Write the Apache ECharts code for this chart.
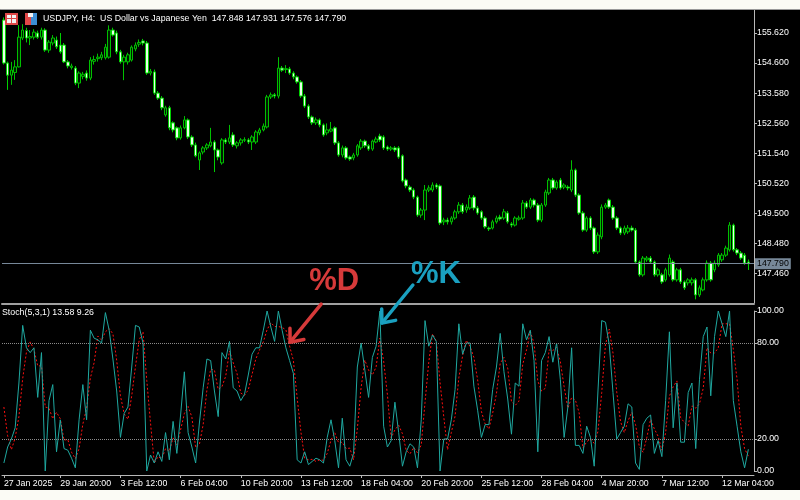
<!DOCTYPE html>
<html><head><meta charset="utf-8">
<script src="https://cdn.jsdelivr.net/npm/echarts@6/dist/echarts.min.js"></script>
<style>
html,body{margin:0;padding:0;background:#fbfbf5;width:800px;height:500px;overflow:hidden;}
#frame{position:absolute;left:0;top:9px;width:800px;height:481px;background:#000;border-top:1px solid #9a9a9a;border-left:1px solid #8a8a8a;box-sizing:border-box;}
#chart{position:absolute;left:0;top:10px;width:800px;height:480px;}
</style></head><body>
<div id="frame"></div><div id="chart"></div>
<script>
const titleText = 'USDJPY, H4:  US Dollar vs Japanese Yen  147.848 147.931 147.576 147.790';
const stochTitle = 'Stoch(5,3,1) 13.58 9.26';
const priceTicks = [147.46,148.48,149.50,150.52,151.54,152.56,153.58,154.60,155.62];
const stochTicks = [0,20,80,100];
const stochLevels = [20,80];
const bidPrice = 147.790;
const xTickIndex = [0,15,31,47,63,79,95,111,127,143,159,175,191];
const xTickLabel = ['27 Jan 2025','29 Jan 20:00','3 Feb 12:00','6 Feb 04:00','10 Feb 20:00','13 Feb 12:00','18 Feb 04:00','20 Feb 20:00','25 Feb 12:00','28 Feb 04:00','4 Mar 20:00','7 Mar 12:00','12 Mar 04:00'];

const openP = [156.06,154.60,154.19,154.28,154.47,155.45,155.70,155.45,155.48,155.62,
155.48,155.72,155.04,155.28,155.38,155.21,155.21,154.64,154.45,154.43,
153.92,154.15,154.26,154.09,154.66,154.75,154.78,154.78,154.80,155.72,
155.62,154.98,154.64,154.64,154.70,155.08,155.24,155.35,155.28,154.26,
154.30,153.58,153.41,152.84,153.08,152.57,152.40,152.06,152.40,152.67,
152.09,151.82,151.31,151.58,151.72,151.79,151.92,151.65,151.21,151.99,
151.92,152.16,151.79,151.89,151.98,151.99,151.92,151.92,152.23,152.33,
152.43,153.45,153.52,153.48,154.43,154.38,154.40,154.26,154.13,153.96,
153.48,153.14,152.77,152.57,152.67,152.50,152.23,152.29,152.40,151.89,
151.48,151.72,151.41,151.38,151.48,151.72,151.95,151.79,151.68,151.92,
152.12,152.09,151.75,151.68,151.72,151.72,151.45,150.63,150.39,150.29,
150.05,149.44,149.61,150.29,150.29,150.46,150.43,149.21,149.27,149.21,
149.34,149.55,149.78,149.61,149.68,150.05,149.68,149.55,149.34,149.00,
149.00,149.21,149.37,149.34,149.51,149.14,149.10,149.30,149.34,149.85,
149.71,149.95,149.78,149.27,149.78,150.19,150.63,150.36,150.63,150.39,
150.39,150.29,150.97,150.12,149.51,148.93,149.34,149.00,148.19,148.70,
149.71,149.95,149.71,149.34,149.00,148.83,148.87,149.00,148.93,147.85,
147.41,147.92,147.98,147.85,147.41,147.41,147.24,147.41,147.85,147.24,
147.58,147.17,147.14,147.14,147.24,146.73,146.90,147.24,147.81,147.58,
147.75,147.92,148.08,148.26,149.10,148.26,148.15,148.08,147.848];
const highP = [156.15,154.65,154.64,154.70,155.89,155.92,155.80,155.72,155.75,155.70,
155.80,155.78,155.38,155.55,155.50,155.62,155.28,154.70,154.58,154.50,
154.32,154.30,154.35,154.80,154.85,154.92,154.98,155.25,155.88,155.80,
155.70,155.05,154.88,154.95,155.20,155.30,155.40,155.42,155.35,154.40,
154.38,153.65,153.48,153.15,153.15,152.62,152.45,152.48,152.80,152.72,
152.15,151.90,151.60,151.78,151.88,152.40,151.98,151.70,152.05,152.05,
152.50,152.25,151.95,152.05,152.08,152.05,152.15,152.32,152.40,152.55,
153.52,153.60,153.58,154.80,154.50,154.53,154.47,154.32,154.18,154.02,
153.55,153.20,152.82,152.75,152.72,152.55,152.55,152.60,152.45,151.95,
151.80,151.78,151.46,151.55,151.85,152.02,152.00,151.85,152.00,152.10,
152.20,152.15,151.80,151.78,151.78,151.78,151.50,150.68,150.45,150.35,
150.10,149.68,150.46,150.45,150.55,150.52,150.48,149.35,149.35,149.40,
149.62,149.88,149.85,149.80,150.12,150.12,149.75,149.60,149.40,149.05,
149.28,149.42,149.45,149.65,149.58,149.20,149.40,149.42,149.95,149.92,
150.02,150.00,149.85,149.85,150.30,150.70,150.70,150.62,150.70,150.52,
150.45,151.30,151.02,150.18,149.58,149.40,149.40,149.05,148.85,149.80,
149.85,150.00,149.78,149.40,149.05,149.08,149.10,149.08,149.00,147.90,
148.05,148.05,148.05,147.90,147.65,147.48,147.65,148.10,147.92,147.65,
147.65,147.22,147.30,147.32,147.30,147.05,147.32,147.90,147.88,147.90,
148.15,148.15,148.40,149.20,149.15,148.32,148.22,148.15,147.931];
const lowP = [154.55,153.69,153.86,154.03,154.45,155.38,155.30,155.21,155.40,155.42,
155.40,154.98,154.95,155.20,155.08,154.92,154.60,154.42,154.38,153.85,
153.75,154.05,154.00,154.02,154.55,154.65,154.70,154.72,154.75,155.50,
154.90,154.58,154.02,154.55,154.65,155.00,155.15,155.20,154.20,154.18,
153.52,153.35,153.00,152.78,152.32,152.25,151.98,152.00,152.35,152.02,
151.75,151.40,150.97,151.50,151.65,151.74,150.90,151.30,151.15,151.85,
151.85,151.75,151.70,151.80,151.92,151.85,151.65,151.85,152.15,152.28,
152.38,153.38,153.40,153.40,154.30,154.26,154.20,154.05,153.90,153.42,
153.08,152.70,152.50,152.50,152.42,152.10,152.15,152.25,151.82,151.42,
151.40,151.32,151.28,151.30,151.42,151.65,151.72,151.62,151.62,151.88,
151.92,151.65,151.62,151.62,151.58,151.35,150.55,150.35,150.22,149.98,
149.38,149.35,149.27,150.22,150.22,150.32,149.10,149.10,149.12,149.12,
149.28,149.48,149.48,149.52,149.62,149.60,149.45,149.28,148.98,148.90,
148.95,149.15,149.25,149.28,149.15,149.02,149.05,149.25,149.28,149.65,
149.65,149.70,149.20,149.20,149.72,150.12,150.30,150.30,150.30,150.32,
150.28,150.22,150.05,149.45,148.87,148.87,148.93,148.12,148.12,148.62,
149.65,149.65,149.28,148.93,148.76,148.76,148.80,148.88,147.78,147.35,
147.35,147.85,147.78,147.35,147.35,147.10,147.18,147.35,147.18,147.18,
147.10,146.90,147.05,147.05,146.58,146.66,146.85,147.18,147.18,147.50,
147.68,147.85,148.02,148.20,148.20,148.08,147.92,147.75,147.576];
const closeP = [154.60,154.19,154.36,154.47,155.48,155.72,155.45,155.50,155.65,155.48,
155.72,155.04,155.31,155.45,155.15,154.98,154.64,154.50,154.50,153.92,
154.26,154.22,154.09,154.70,154.72,154.80,154.88,155.14,155.72,155.55,
154.98,154.64,154.80,154.88,155.14,155.21,155.30,155.28,154.26,154.32,
153.58,153.41,153.08,153.08,152.40,152.33,152.06,152.40,152.67,152.09,
151.82,151.45,151.55,151.72,151.82,151.92,151.65,151.41,151.99,151.92,
152.06,151.82,151.89,151.99,152.00,151.92,152.09,152.26,152.33,152.46,
153.45,153.52,153.48,154.43,154.36,154.41,154.26,154.13,153.96,153.48,
153.14,152.77,152.57,152.67,152.50,152.16,152.33,152.36,151.89,151.48,
151.72,151.38,151.34,151.48,151.79,151.95,151.79,151.68,151.95,152.02,
151.99,151.72,151.68,151.72,151.65,151.41,150.60,150.43,150.29,150.05,
149.44,149.61,150.29,150.36,150.46,150.39,149.17,149.27,149.21,149.34,
149.55,149.78,149.55,149.71,150.02,149.68,149.51,149.34,149.04,148.97,
149.21,149.34,149.31,149.55,149.21,149.10,149.34,149.34,149.85,149.71,
149.95,149.78,149.27,149.78,150.22,150.63,150.36,150.56,150.36,150.46,
150.36,150.97,150.12,149.51,148.93,149.34,149.00,148.19,148.76,149.71,
149.78,149.71,149.34,149.00,148.83,149.00,149.00,148.93,147.85,147.41,
147.98,147.98,147.85,147.41,147.58,147.17,147.58,147.98,147.24,147.58,
147.17,146.97,147.24,147.24,146.73,146.97,147.24,147.81,147.24,147.81,
148.08,148.08,148.32,149.10,148.26,148.15,147.98,147.81,147.790];
const stochK = [5,15,20,27,55,91,77,74,77,46,
74,0,44,54,12,32,14,13,8,2,
32,54,32,88,83,82,80,99,88,70,
50,21,36,40,65,91,90,80,0,10,
5,12,6,24,7,31,11,35,62,24,
15,5,30,52,70,69,50,34,74,70,
81,52,50,44,48,60,73,77,77,88,
100,90,81,100,88,77,69,61,7,5,
12,4,6,8,7,5,21,32,19,2,
33,7,3,11,65,80,63,46,71,78,
100,28,15,19,43,24,3,12,17,15,
2,32,94,78,85,81,0,20,20,32,
51,92,73,80,80,53,38,21,29,29,
51,65,86,62,45,23,55,53,92,82,
88,69,12,69,74,84,68,80,57,21,
40,77,16,16,11,28,21,3,50,94,
93,79,49,20,24,28,42,40,5,1,
29,33,35,11,19,9,44,87,27,55,
18,18,49,55,14,57,84,90,47,84,
100,92,84,100,44,28,12,2,13.58];
const stochD = [40,22,13.3,20.7,34,57.7,74.3,80.7,76,65.7,
65.7,40,39.3,32.7,36.7,32.7,19.3,19.7,11.7,7.7,
14,29.3,39.3,58,67.7,84.3,81.7,87,89,85.7,
69.3,47,35.7,32.3,47,65.3,82,87,56.7,30,
5,9,7.7,14,12.3,20.7,16.3,25.7,36,40.3,
33.7,14.7,16.7,29,50.7,63.7,63,51,52.7,59.3,
75,67.7,61,48.7,47.3,50.7,60.3,70,75.7,80.7,
88.3,92.7,90.3,90.3,89.7,88.3,78,69,45.7,24.3,
8,7,7.3,6,7,6.7,11,19.3,24,17.7,
18,14,14.3,7,26.3,52,69.3,63,60,65,
83,68.7,47.7,20.7,25.7,28.7,23.3,13,10.7,14.7,
11.3,16.3,42.7,68,85.7,81.3,55.3,33.7,13.3,24,
34.3,58.3,72,81.7,77.7,71,57,37.3,29.3,26.3,
36.3,48.3,67.3,71,64.3,43.3,41,43.7,66.7,75.7,
87.3,79.7,56.3,50,51.7,75.7,75.3,77.3,68.3,52.7,
39.3,46,44.3,36.3,14.3,18.3,20,17.3,24.7,49,
79,88.7,73.7,49.3,31,24,31.3,36.7,29,15.3,
11.7,21,32.3,26.3,21.7,13,24,46.7,52.7,56.3,
33.3,30.3,28.3,40.7,39.3,42,51.7,77,73.7,73.7,
77,92,92,92,76,57.3,28,14,9.26];

const FONT = 'Liberation Sans';
const FS = 8.8;
const categories = Array.from({length: openP.length + 1}, (_, i) => String(i));
const candles = openP.map((o, i) => [o, closeP[i], lowP[i], highP[i]]);
const axisGrey = '#b8b8b8';

const chart = echarts.init(document.getElementById('chart'), null, {renderer: 'canvas'});
const option = {
  backgroundColor: '#000000',
  animation: false,
  title: [
    {text: titleText, left: 43, top: 4, padding: 0,
     textStyle: {color: '#ffffff', fontSize: FS, fontWeight: 'normal', fontFamily: FONT}},
    {text: stochTitle, left: 2, top: 298, padding: 0,
     textStyle: {color: '#ffffff', fontSize: FS, fontWeight: 'normal', fontFamily: FONT}}
  ],
  grid: [
    {left: 2, right: 46, top: 0, height: 293},
    {left: 2, right: 46, top: 301, height: 160}
  ],
  xAxis: [
    {type: 'category', data: categories, gridIndex: 0, boundaryGap: true, offset: 1,
     axisLine: {show: true, onZero: false, lineStyle: {color: '#a0a0a0', width: 2}},
     axisTick: {show: false}, axisLabel: {show: false}, splitLine: {show: false}},
    {type: 'category', data: categories, gridIndex: 1, boundaryGap: true, offset: 4,
     axisLine: {show: true, onZero: false, lineStyle: {color: axisGrey, width: 1}},
     axisTick: {show: true, alignWithLabel: true, length: 3,
       interval: (i) => xTickIndex.includes(i), lineStyle: {color: axisGrey}},
     axisLabel: {interval: (i) => xTickIndex.includes(i),
       formatter: (v, i) => xTickLabel[xTickIndex.indexOf(i)],
       align: 'left', color: '#ffffff', fontSize: FS, fontFamily: FONT, margin: 4},
     splitLine: {show: false}}
  ],
  yAxis: [
    {type: 'value', gridIndex: 0, position: 'right', min: 146.455, max: 156.401,
     axisLine: {show: true, lineStyle: {color: axisGrey}},
     axisTick: {show: true, length: 3, customValues: priceTicks, lineStyle: {color: axisGrey}},
     axisLabel: {customValues: priceTicks, formatter: (v) => v.toFixed(3),
       color: '#ffffff', fontSize: FS, fontFamily: FONT, margin: 3},
     splitLine: {show: false}},
    {type: 'value', gridIndex: 1, position: 'right', min: 0, max: 100,
     axisLine: {show: true, lineStyle: {color: axisGrey}},
     axisTick: {show: true, length: 3, customValues: stochTicks, lineStyle: {color: axisGrey}},
     axisLabel: {customValues: stochTicks, formatter: (v) => v.toFixed(2),
       color: '#ffffff', fontSize: FS, fontFamily: FONT, margin: 3},
     splitLine: {show: false}}
  ],
  series: [
    {type: 'candlestick', xAxisIndex: 0, yAxisIndex: 0, data: candles, barWidth: 3,
     itemStyle: {color: '#001a00', color0: '#e8ffe8', borderColor: '#00c000', borderColor0: '#00d000', borderWidth: 1},
     markLine: {silent: true, symbol: ['none', 'none'],
       lineStyle: {color: '#778899', width: 1, type: 'solid'},
       label: {show: true, position: 'end', distance: 1, formatter: bidPrice.toFixed(3),
         backgroundColor: '#778899', color: '#000000', padding: [1, 2, 1, 2],
         fontSize: FS, fontFamily: FONT},
       data: [{yAxis: bidPrice}]}},
    {type: 'line', name: '%D', xAxisIndex: 1, yAxisIndex: 1, data: stochD, symbol: 'none', z: 2,
     lineStyle: {color: '#ff1010', width: 1, type: [2, 2]}},
    {type: 'line', name: '%K', xAxisIndex: 1, yAxisIndex: 1, data: stochK, symbol: 'none', z: 3,
     lineStyle: {color: '#1fa8a0', width: 1},
     markLine: {silent: true, symbol: ['none', 'none'],
       lineStyle: {color: '#8a8a8a', width: 1, type: 'dotted'},
       label: {show: false}, data: stochLevels.map(v => ({yAxis: v}))}}
  ]
};
chart.setOption(option);

function arrow(tip, tail, color) {
  const dx = tail[0] - tip[0], dy = tail[1] - tip[1];
  const len = Math.hypot(dx, dy), ux = dx / len, uy = dy / len;
  const arm = 14, a = 40 * Math.PI / 180;
  const r1 = [tip[0] + arm * (ux * Math.cos(a) - uy * Math.sin(a)), tip[1] + arm * (ux * Math.sin(a) + uy * Math.cos(a))];
  const r2 = [tip[0] + arm * (ux * Math.cos(-a) - uy * Math.sin(-a)), tip[1] + arm * (ux * Math.sin(-a) + uy * Math.cos(-a))];
  return [
    {type: 'polyline', shape: {points: [tail, tip]}, style: {stroke: color, lineWidth: 3.5, lineCap: 'round'}, z: 100},
    {type: 'polyline', shape: {points: [r1, tip, r2]}, style: {stroke: color, lineWidth: 3.5, lineCap: 'round', lineJoin: 'round', fill: null}, z: 100}
  ];
}
const kPt = chart.convertToPixel({xAxisIndex: 1, yAxisIndex: 1}, [100, stochK[100]]);
const dPt = chart.convertToPixel({xAxisIndex: 1, yAxisIndex: 1}, [76, stochD[76]]);
const kTip = [kPt[0] + 2, kPt[1] + 12], kTail = [kTip[0] + 31, kTip[1] - 38];
const dTip = [dPt[0] + 0.5, dPt[1] - 4], dTail = [dTip[0] + 31, dTip[1] - 38];
const red = '#d63a3a', teal = '#1aa0c0';
const graphics = [].concat(
  arrow(kTip, kTail, teal), arrow(dTip, dTail, red),
  [
    {type: 'text', left: kTail[0] - 2, top: kTail[1] - 26, z: 100,
     style: {text: '%K', fill: teal, font: 'bold 31px "Liberation Sans"'}},
    {type: 'text', left: dTail[0] - 12, top: dTail[1] - 38, z: 100,
     style: {text: '%D', fill: red, font: 'bold 31px "Liberation Sans"'}},
    {type: 'rect', shape: {x: 5, y: 3, width: 13, height: 12}, style: {fill: '#e04848'}, z: 50},
    {type: 'rect', shape: {x: 7, y: 5, width: 9, height: 8}, style: {fill: '#f4f4f4'}, z: 51},
    {type: 'rect', shape: {x: 7, y: 8, width: 9, height: 1}, style: {fill: '#e04848'}, z: 52},
    {type: 'rect', shape: {x: 11, y: 5, width: 1, height: 8}, style: {fill: '#e04848'}, z: 52},
    {type: 'rect', shape: {x: 25, y: 3, width: 6, height: 12}, style: {fill: '#e04848'}, z: 50},
    {type: 'rect', shape: {x: 31, y: 3, width: 6, height: 12}, style: {fill: '#3d8fd6'}, z: 50},
    {type: 'rect', shape: {x: 28, y: 3, width: 5, height: 4}, style: {fill: '#f4f4f4'}, z: 51}
  ]
);
chart.setOption({graphic: graphics});
</script>
</body></html>
